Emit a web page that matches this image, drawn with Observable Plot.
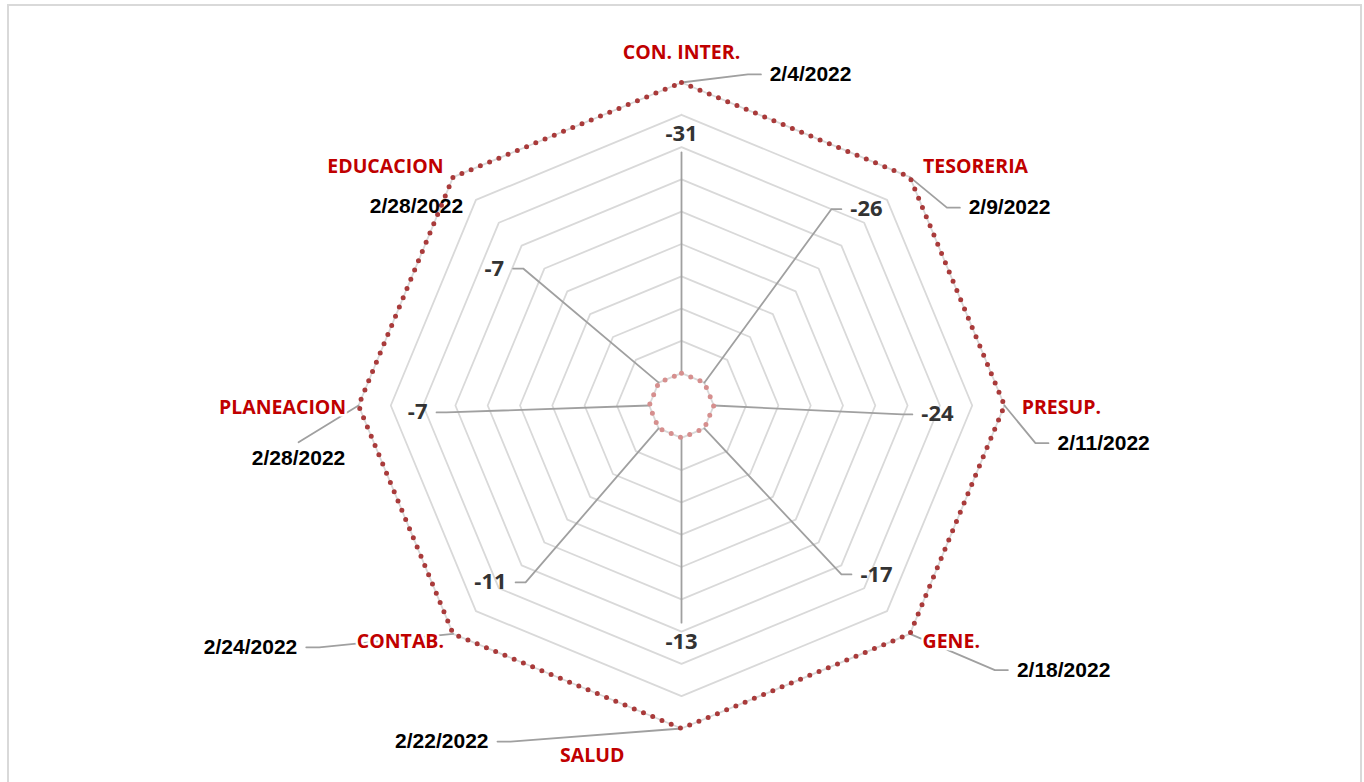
<!DOCTYPE html>
<html><head><meta charset="utf-8">
<script src="https://cdn.jsdelivr.net/npm/d3@7"></script>
<script src="https://cdn.jsdelivr.net/npm/@observablehq/plot@0.6"></script>
<style>
html,body{margin:0;padding:0;background:#fff;}
#wrap{position:relative;width:1364px;height:782px;overflow:hidden;}
#wrap svg{position:absolute;left:0;top:0;}
#frame{position:absolute;left:7px;top:4px;width:1355px;height:800px;border:2px solid #d9d9d9;box-sizing:border-box;pointer-events:none;}
</style></head><body>
<div id="wrap"><div id="frame"></div></div>
<script>
// ---- data ----
const categories = ["CON. INTER.","TESORERIA","PRESUP.","GENE.","SALUD","CONTAB.","PLANEACION","EDUCACION"];
const diffValues = [-31,-26,-24,-17,-13,-11,-7,-7];
const dateLabels = ["2/4/2022","2/9/2022","2/11/2022","2/18/2022","2/22/2022","2/24/2022","2/28/2022","2/28/2022"];
const ringLevels = [1,2,3,4,5,6,7,8,9,10];
const outerLevel = 10;   // date series plotted on outer ring
const innerLevel = 1;    // difference series plotted on inner ring

// ---- layout (label placement: radius in ring units, angle in degrees clockwise from top, leader attach side) ----
const catLabelPos   = [[10.93,0],[11.73,50.9],[11.76,90.3],[11.10,131.2],[11.18,194.3],[11.36,230.0],[12.35,269.7],[11.78,308.9]];
const dateLabelPos  = [[11.0,21.3,"l"],[11.86,58.9,"l"],[13.12,95.1,"l"],[14.39,124.7,"l"],[12.78,215.5,"r"],[15.30,240.7,"r"],[11.97,262.1,"t"],[10.26,306.9,"none"]];
const valueLabelPos = [[8.42,0,"b"],[8.35,43.3,"l"],[7.93,92,"l"],[7.99,130.9,"l"],[7.31,180,"t"],[8.06,227.2,"r"],[8.17,268.5,"r"],[7.18,306.2,"r"]];

const W = 1364, H = 782, u = 32.3, cx = 681, cy = 405;
const n = categories.length;
const rad = d => d*Math.PI/180;
const P = (r,a) => [r*Math.sin(rad(a)), r*Math.cos(rad(a))];
const axisAngle = i => i*360/n;

const fonts = {
  cat:  {family:"'Open Sans'", size:19.5, weight:"bold", ls:0.3},
  val:  {family:"'Open Sans'", size:22, weight:"bold", ls:0},
  date: {family:"'Liberation Sans'", size:21, weight:"bold", ls:0.5}
};
const ctx = document.createElement("canvas").getContext("2d");
function measure(text, f){ ctx.font = `${f.weight} ${f.size}px ${f.family}`; return ctx.measureText(text).width + f.ls*(text.length-1); }

// grid rings
const grid = [];
ringLevels.forEach(L => { for (let i=0;i<=n;i++){ const [x,y]=P(L,axisAngle(i%n)); grid.push({ring:L,x,y}); } });
function polygon(level){ const out=[]; for(let i=0;i<=n;i++){ const [x,y]=P(level,axisAngle(i%n)); out.push({x,y}); } return out; }
const outerSeries = polygon(outerLevel);
const innerSeries = polygon(innerLevel);

function labelPoints(pos, texts){ return texts.map((t,i)=>{ const [x,y]=P(pos[i][0],pos[i][1]); return {text:String(t),x,y}; }); }
const catLabels = labelPoints(catLabelPos, categories);
const valLabels = labelPoints(valueLabelPos, diffValues.map(v=>String(v)));
const dLabels   = labelPoints(dateLabelPos, dateLabels);

function leaders(prefix, startLevel, pos, labels, f, gapPx, elbowPx){
  const out=[];
  labels.forEach((lab,i)=>{
    const side = pos[i][2];
    const [sx,sy] = P(startLevel, axisAngle(i));
    const hw = measure(lab.text,f)/2/u, hh = f.size*0.45/u, g = gapPx/u, e = elbowPx/u;
    let pts=[];
    if (side==="l"){ const ex=lab.x-hw-g; pts=[[sx,sy],[ex-e,lab.y],[ex,lab.y]]; }
    else if (side==="r"){ const ex=lab.x+hw+g; pts=[[sx,sy],[ex+e,lab.y],[ex,lab.y]]; }
    else if (side==="t"){ pts=[[sx,sy],[lab.x,lab.y+hh+g]]; }
    else if (side==="b"){ pts=[[sx,sy],[lab.x,lab.y-hh-g]]; }
    pts.forEach(([x,y])=>out.push({id:prefix+i,x,y}));
  });
  return out;
}
const valLeaders  = leaders("v", innerLevel, valueLabelPos, valLabels, fonts.val, 9, 10);
const dateLeaders = leaders("d", outerLevel, dateLabelPos, dLabels, fonts.date, 7, 13);

const textOpts = f => ({x:"x", y:"y", text:"text", fontFamily:f.family.replace(/'/g,""), fontSize:f.size, fontWeight:f.weight, textAnchor:"middle", lineAnchor:"middle"});

const chart = Plot.plot({
  width: W, height: H, margin: 0,
  style: {background:"transparent", overflow:"visible"},
  x: {domain:[-cx/u, (W-cx)/u], axis:null},
  y: {domain:[-(H-cy)/u, cy/u], axis:null},
  marks: [
    Plot.line(grid, {x:"x", y:"y", z:"ring", stroke:"#d9d9d9", strokeWidth:1.8, curve:"linear"}),
    Plot.line(valLeaders, {x:"x", y:"y", z:"id", stroke:"#a0a0a0", strokeWidth:1.8}),
    Plot.line(dateLeaders, {x:"x", y:"y", z:"id", stroke:"#a0a0a0", strokeWidth:1.8}),
    Plot.line(innerSeries, {x:"x", y:"y", stroke:"#d68f8e", strokeWidth:5, strokeDasharray:"0 10", strokeLinecap:"round"}),
    Plot.line(outerSeries, {x:"x", y:"y", stroke:"#a93a3a", strokeWidth:5, strokeDasharray:"0 10", strokeLinecap:"round"}),
    Plot.text(catLabels, {...textOpts(fonts.cat), fill:"#c00000", stroke:"white", strokeWidth:5, paintOrder:"stroke", ariaLabel:"cat-labels"}),
    Plot.text(valLabels, {...textOpts(fonts.val), fill:"#333333", ariaLabel:"val-labels"}),
    Plot.text(dLabels, {...textOpts(fonts.date), fill:"#000000", ariaLabel:"date-labels"})
  ]
});
d3.select(chart).selectAll('g[aria-label="cat-labels"] text').style("letter-spacing", fonts.cat.ls+"px");
d3.select(chart).selectAll('g[aria-label="val-labels"] text').style("letter-spacing", fonts.val.ls+"px");
d3.select(chart).selectAll('g[aria-label="date-labels"] text').style("letter-spacing", fonts.date.ls+"px");
document.getElementById("wrap").insertBefore(chart, document.getElementById("frame"));
</script>
</body></html>
